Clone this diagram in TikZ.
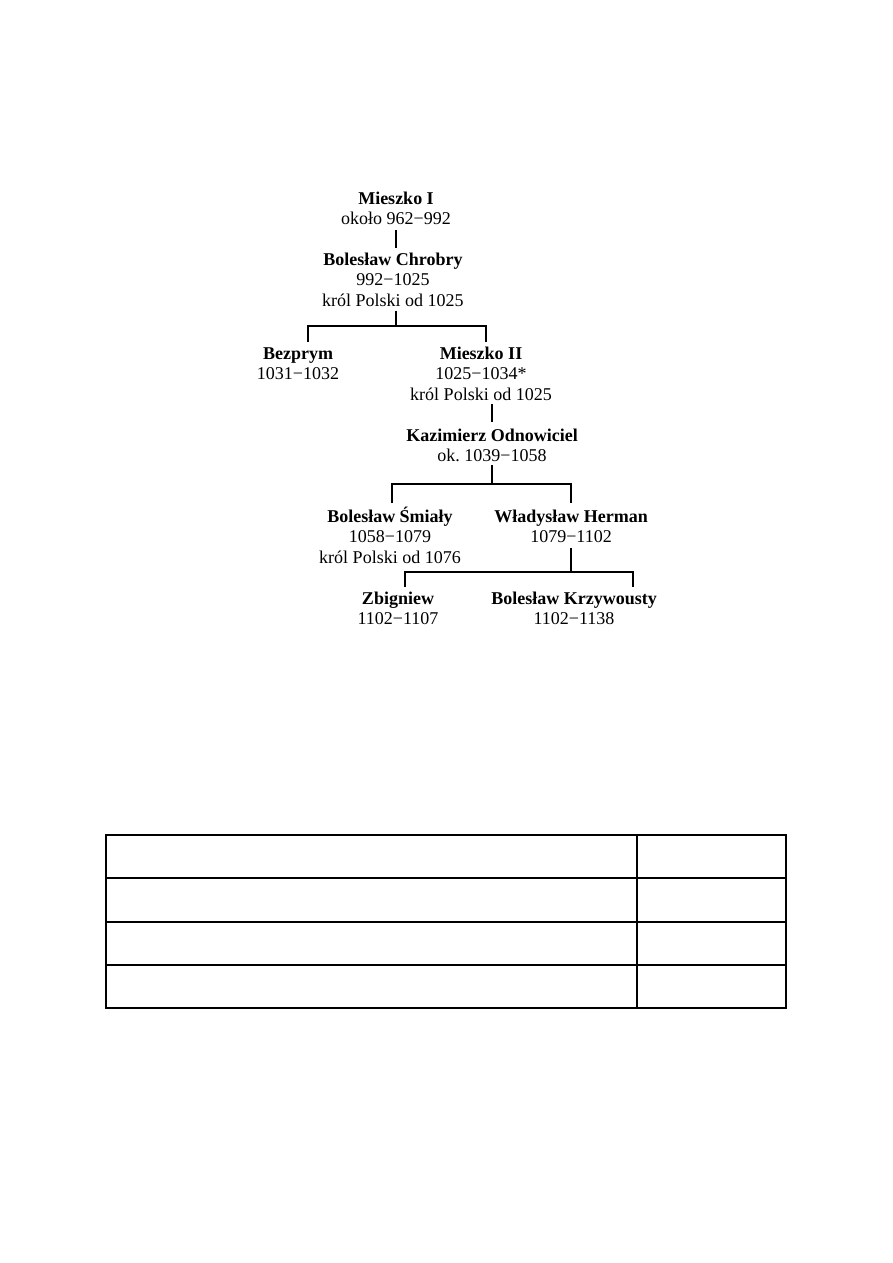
\documentclass[tikz,border=0pt]{standalone}
\usepackage{fontspec}
\setmainfont{Liberation Serif}
\frenchspacing
\begin{document}
\begin{tikzpicture}[x=1pt,y=-1pt,
  person/.style={anchor=north,align=center,inner sep=0pt,font=\fontsize{18}{20.5}\selectfont},
  link/.style={line width=1.6pt},
  grid/.style={line width=1.4pt}]
\useasboundingbox (0,0) rectangle (893,1263);
\fill[white] (0,0) rectangle (893,1263);
\newcommand{\nm}[1]{\rule{0pt}{17pt}\textbf{#1}}
\node[person] (m1) at (396,187) {\nm{Mieszko I}\\około 962−992};
\node[person] (chro) at (393,248) {\nm{Bolesław Chrobry}\\992−1025\\król Polski od 1025};
\node[person] (bez) at (298,342) {\nm{Bezprym}\\1031−1032};
\node[person] (m2) at (481,342) {\nm{Mieszko II}\\1025−1034*\\król Polski od 1025};
\node[person] (kaz) at (492,424) {\nm{Kazimierz Odnowiciel}\\ok.\ 1039−1058};
\node[person] (smi) at (390,505) {\nm{Bolesław Śmiały}\\1058−1079\\król Polski od 1076};
\node[person] (her) at (571,505) {\nm{Władysław Herman}\\1079−1102};
\node[person] (zbi) at (398,587) {\nm{Zbigniew}\\1102−1107};
\node[person] (krz) at (574,587) {\nm{Bolesław Krzywousty}\\1102−1138};
% connectors
\draw[link] ([yshift=-5]m1.south) -- (m1.south |- chro.north);
\coordinate (j1) at (396,326);
\draw[link] ([yshift=-4]j1 |- chro.south) -- (j1);
\draw[link] ([xshift=10]bez.north) -- ([xshift=10]bez.north |- j1) -- ([xshift=5]m2.north |- j1) -- ([xshift=5]m2.north);
\draw[link] ([yshift=-3]kaz.north |- m2.south) -- ([yshift=2]kaz.north);
\coordinate (j2) at (492,484);
\draw[link] ([yshift=-3]j2 |- kaz.south) -- (j2);
\draw[link] ([xshift=2,yshift=2]smi.north) -- ([xshift=2]smi.north |- j2) -- (her.north |- j2) -- ([yshift=2]her.north);
\coordinate (j3) at (571,572);
\draw[link] ([yshift=-5]j3 |- her.south) -- (j3);
\draw[link] ([xshift=7]zbi.north) -- ([xshift=7]zbi.north |- j3) -- ([xshift=59]krz.north |- j3) -- ([xshift=59]krz.north);
% table
\draw[grid] (106,835) rectangle (786,1008);
\draw[grid] (637,835) -- (637,1008);
\foreach \y in {878,922,965} \draw[grid] (106,\y) -- (786,\y);
\end{tikzpicture}
\end{document}
